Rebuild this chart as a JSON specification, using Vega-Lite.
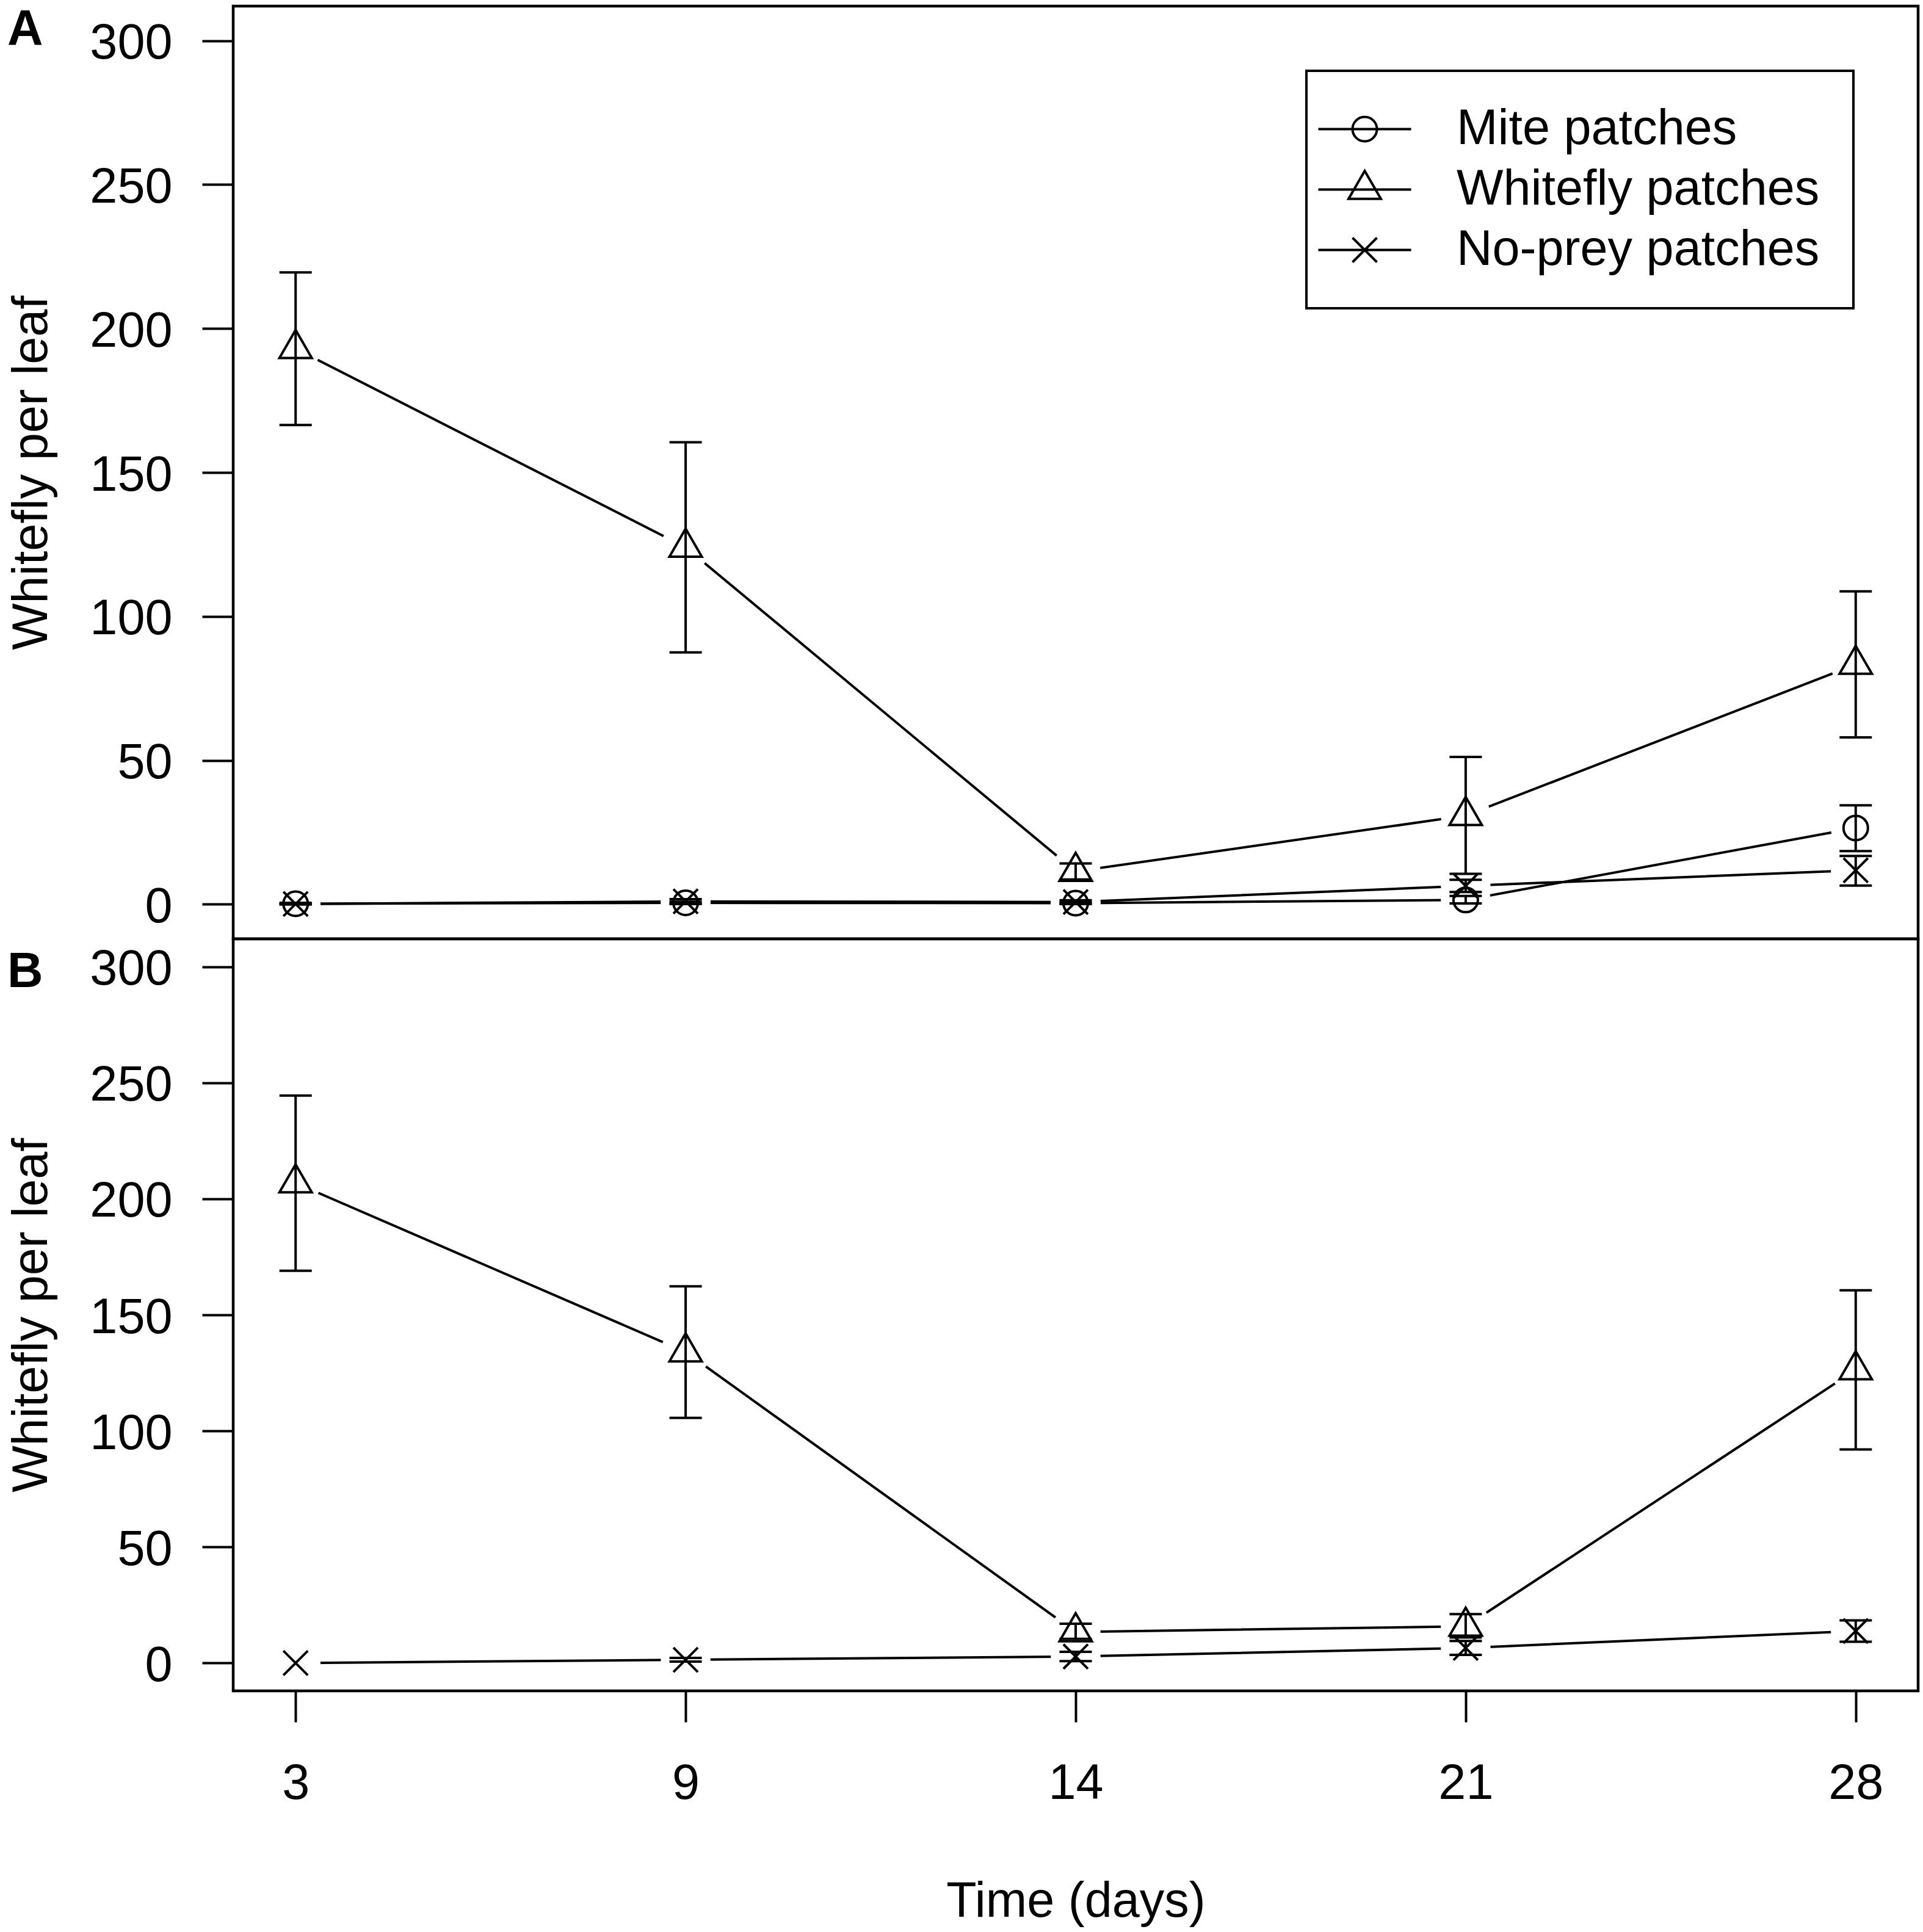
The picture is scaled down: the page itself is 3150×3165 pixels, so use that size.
{
  "$schema": "https://vega.github.io/schema/vega-lite/v6.json",
  "background": "white",
  "padding": {"left": 8, "top": 5, "right": 5, "bottom": 5},
  "data": {
    "values": [
      {"panel": "A", "day": 3, "series": "Mite patches", "mean": 0.2, "lo": 0.0, "hi": 0.5},
      {"panel": "A", "day": 9, "series": "Mite patches", "mean": 0.5, "lo": 0.1, "hi": 0.9},
      {"panel": "A", "day": 14, "series": "Mite patches", "mean": 0.4, "lo": 0.1, "hi": 0.8},
      {"panel": "A", "day": 21, "series": "Mite patches", "mean": 1.5, "lo": 0.3, "hi": 2.9},
      {"panel": "A", "day": 28, "series": "Mite patches", "mean": 26.5, "lo": 18.5, "hi": 34.4},
      {"panel": "A", "day": 3, "series": "Whitefly patches", "mean": 193.0, "lo": 166.5, "hi": 219.5},
      {"panel": "A", "day": 9, "series": "Whitefly patches", "mean": 124.0, "lo": 87.5, "hi": 160.5},
      {"panel": "A", "day": 14, "series": "Whitefly patches", "mean": 11.4, "lo": 8.6, "hi": 14.2},
      {"panel": "A", "day": 21, "series": "Whitefly patches", "mean": 30.8, "lo": 10.6, "hi": 51.2},
      {"panel": "A", "day": 28, "series": "Whitefly patches", "mean": 83.3, "lo": 58.0, "hi": 108.7},
      {"panel": "A", "day": 3, "series": "No-prey patches", "mean": 0.1, "lo": 0.0, "hi": 0.3},
      {"panel": "A", "day": 9, "series": "No-prey patches", "mean": 1.0, "lo": 0.2, "hi": 1.8},
      {"panel": "A", "day": 14, "series": "No-prey patches", "mean": 0.8, "lo": 0.2, "hi": 1.4},
      {"panel": "A", "day": 21, "series": "No-prey patches", "mean": 6.4, "lo": 4.3, "hi": 8.5},
      {"panel": "A", "day": 28, "series": "No-prey patches", "mean": 11.8, "lo": 6.5, "hi": 16.8},
      {"panel": "B", "day": 3, "series": "Whitefly patches", "mean": 206.8, "lo": 169.0, "hi": 244.5},
      {"panel": "B", "day": 9, "series": "Whitefly patches", "mean": 134.0, "lo": 105.6, "hi": 162.3},
      {"panel": "B", "day": 14, "series": "Whitefly patches", "mean": 13.4, "lo": 10.4, "hi": 16.9},
      {"panel": "B", "day": 21, "series": "Whitefly patches", "mean": 15.8, "lo": 11.0, "hi": 21.1},
      {"panel": "B", "day": 28, "series": "Whitefly patches", "mean": 126.3, "lo": 92.0, "hi": 160.6},
      {"panel": "B", "day": 3, "series": "No-prey patches", "mean": 0.0, "lo": null, "hi": null},
      {"panel": "B", "day": 9, "series": "No-prey patches", "mean": 1.4, "lo": 0.6, "hi": 2.2},
      {"panel": "B", "day": 14, "series": "No-prey patches", "mean": 2.8, "lo": 0.8, "hi": 4.8},
      {"panel": "B", "day": 21, "series": "No-prey patches", "mean": 6.5, "lo": 3.5, "hi": 9.5},
      {"panel": "B", "day": 28, "series": "No-prey patches", "mean": 13.8, "lo": 9.2, "hi": 18.4}
    ]
  },
  "vconcat": [
    {
      "width": 2760,
      "height": 1528,
      "title": {"text": "A", "anchor": "start", "frame": "group", "orient": "top", "offset": -80, "baseline": "top", "fontSize": 81, "fontWeight": "bold", "color": "black", "dx": -370},
      "transform": [{"filter": "datum.panel == 'A'"}],
      "encoding": {
        "x": {"field": "day", "type": "ordinal", "scale": {"type": "point", "padding": 0.16, "domain": [3, 9, 14, 21, 28]}, "axis": null}
      },
      "layer": [
        {
          "mark": {"type": "line", "color": "black", "strokeWidth": 4},
          "encoding": {
            "y": {"field": "mean", "type": "quantitative", "scale": {"domain": [-12, 312], "nice": false, "zero": false}, "title": "Whitefly per leaf", "axis": {"values": [0, 50, 100, 150, 200, 250, 300]}},
            "detail": {"field": "series"}
          }
        },
        {
          "mark": {"type": "point", "shape": "circle", "filled": true, "color": "white", "opacity": 1, "size": 6650, "strokeWidth": 0},
          "encoding": {"y": {"field": "mean", "type": "quantitative", "title": "Whitefly per leaf", "axis": {"values": [0, 50, 100, 150, 200, 250, 300]}}}
        },
        {
          "mark": {"type": "rule", "color": "black", "strokeWidth": 4},
          "encoding": {"y": {"field": "lo", "type": "quantitative", "title": "Whitefly per leaf", "axis": {"values": [0, 50, 100, 150, 200, 250, 300]}}, "y2": {"field": "hi"}}
        },
        {
          "mark": {"type": "tick", "color": "black", "thickness": 4, "size": 53, "opacity": 1},
          "encoding": {"y": {"field": "hi", "type": "quantitative", "title": "Whitefly per leaf", "axis": {"values": [0, 50, 100, 150, 200, 250, 300]}}}
        },
        {
          "mark": {"type": "tick", "color": "black", "thickness": 4, "size": 53, "opacity": 1},
          "encoding": {"y": {"field": "lo", "type": "quantitative", "title": "Whitefly per leaf", "axis": {"values": [0, 50, 100, 150, 200, 250, 300]}}}
        },
        {
          "mark": {"type": "point", "filled": false, "color": "black", "strokeWidth": 4, "size": 2809, "opacity": 1},
          "encoding": {
            "y": {"field": "mean", "type": "quantitative", "title": "Whitefly per leaf", "axis": {"values": [0, 50, 100, 150, 200, 250, 300]}},
            "shape": {
              "field": "series",
              "type": "nominal",
              "scale": {
                "domain": ["Mite patches", "Whitefly patches", "No-prey patches"],
                "range": [
                  "M0.755,0A0.755,0.755,0,1,1,-0.755,0A0.755,0.755,0,1,1,0.755,0Z",
                  "M0,-1.1547L1,0.57735L-1,0.57735Z",
                  "M-0.755,-0.755L0.755,0.755M-0.755,0.755L0.755,-0.755"
                ]
              },
              "legend": null
            }
          }
        },
        {
          "transform": [{"filter": "false"}],
          "mark": {"type": "point", "filled": false, "color": "black", "strokeWidth": 4, "size": 2809, "opacity": 1},
          "encoding": {
            "y": {"field": "mean", "type": "quantitative", "title": "Whitefly per leaf", "axis": {"values": [0, 50, 100, 150, 200, 250, 300]}},
            "shape": {
              "field": "series",
              "type": "nominal",
              "scale": {
                "domain": ["Mite patches", "Whitefly patches", "No-prey patches"],
                "range": [
                  "M-2.87,0L2.87,0M0.755,0A0.755,0.755,0,1,1,-0.755,0A0.755,0.755,0,1,1,0.755,0",
                  "M-2.87,0L2.87,0M0,-1.1547L1,0.57735L-1,0.57735Z",
                  "M-2.87,0L2.87,0M-0.755,-0.755L0.755,0.755M-0.755,0.755L0.755,-0.755"
                ]
              },
              "legend": {
                "title": null,
                "orient": "top-right",
                "offset": 106,
                "padding": 55,
                "strokeColor": "black",
                "fillColor": "white",
                "cornerRadius": 0,
                "labelFontSize": 81,
                "labelColor": "black",
                "labelLimit": 2000,
                "labelOffset": 110,
                "rowPadding": 17,
                "symbolSize": 2809,
                "symbolStrokeWidth": 4,
                "symbolStrokeColor": "black",
                "symbolFillColor": "transparent",
                "symbolOffset": 0
              }
            }
          }
        }
      ],
      "resolve": {"scale": {"shape": "independent"}, "legend": {"shape": "independent"}}
    },
    {
      "width": 2760,
      "height": 1232,
      "title": {"text": "B", "anchor": "start", "frame": "group", "orient": "top", "offset": -96, "baseline": "top", "fontSize": 81, "fontWeight": "bold", "color": "black", "dx": -370},
      "transform": [{"filter": "datum.panel == 'B'"}],
      "encoding": {
        "x": {"field": "day", "type": "ordinal", "scale": {"type": "point", "padding": 0.16, "domain": [3, 9, 14, 21, 28]}, "axis": {"title": "Time (days)", "labelAngle": 0}}
      },
      "layer": [
        {
          "mark": {"type": "line", "color": "black", "strokeWidth": 4},
          "encoding": {
            "y": {"field": "mean", "type": "quantitative", "scale": {"domain": [-12, 312], "nice": false, "zero": false}, "title": "Whitefly per leaf", "axis": {"values": [0, 50, 100, 150, 200, 250, 300]}},
            "detail": {"field": "series"}
          }
        },
        {
          "mark": {"type": "point", "shape": "circle", "filled": true, "color": "white", "opacity": 1, "size": 6650, "strokeWidth": 0},
          "encoding": {"y": {"field": "mean", "type": "quantitative", "title": "Whitefly per leaf", "axis": {"values": [0, 50, 100, 150, 200, 250, 300]}}}
        },
        {
          "mark": {"type": "rule", "color": "black", "strokeWidth": 4},
          "encoding": {"y": {"field": "lo", "type": "quantitative", "title": "Whitefly per leaf", "axis": {"values": [0, 50, 100, 150, 200, 250, 300]}}, "y2": {"field": "hi"}}
        },
        {
          "mark": {"type": "tick", "color": "black", "thickness": 4, "size": 53, "opacity": 1},
          "encoding": {"y": {"field": "hi", "type": "quantitative", "title": "Whitefly per leaf", "axis": {"values": [0, 50, 100, 150, 200, 250, 300]}}}
        },
        {
          "mark": {"type": "tick", "color": "black", "thickness": 4, "size": 53, "opacity": 1},
          "encoding": {"y": {"field": "lo", "type": "quantitative", "title": "Whitefly per leaf", "axis": {"values": [0, 50, 100, 150, 200, 250, 300]}}}
        },
        {
          "mark": {"type": "point", "filled": false, "color": "black", "strokeWidth": 4, "size": 2809, "opacity": 1},
          "encoding": {
            "y": {"field": "mean", "type": "quantitative", "title": "Whitefly per leaf", "axis": {"values": [0, 50, 100, 150, 200, 250, 300]}},
            "shape": {
              "field": "series",
              "type": "nominal",
              "scale": {
                "domain": ["Mite patches", "Whitefly patches", "No-prey patches"],
                "range": [
                  "M0.755,0A0.755,0.755,0,1,1,-0.755,0A0.755,0.755,0,1,1,0.755,0Z",
                  "M0,-1.1547L1,0.57735L-1,0.57735Z",
                  "M-0.755,-0.755L0.755,0.755M-0.755,0.755L0.755,-0.755"
                ]
              },
              "legend": null
            }
          }
        }
      ]
    }
  ],
  "spacing": 0,
  "bounds": "flush",
  "resolve": {"scale": {"shape": "independent", "x": "independent", "y": "independent"}, "legend": {"shape": "independent"}},
  "config": {
    "font": "Liberation Sans",
    "view": {"stroke": "black", "strokeWidth": 4.5},
    "legend": {"strokeColor": "black", "strokeWidth": 4},
    "axis": {
      "grid": false,
      "domain": false,
      "tickColor": "black",
      "tickWidth": 4,
      "tickSize": 51,
      "labelFont": "Liberation Sans",
      "labelFontSize": 81,
      "labelColor": "black",
      "labelOverlap": false,
      "titleFont": "Liberation Sans",
      "titleFontSize": 81,
      "titleFontWeight": "normal",
      "titleColor": "black"
    },
    "axisY": {"labelPadding": 49, "labelOffset": 5, "titlePadding": 89, "labelAngle": 0},
    "axisX": {"labelAngle": 0, "labelPadding": 61, "titlePadding": 113}
  }
}
